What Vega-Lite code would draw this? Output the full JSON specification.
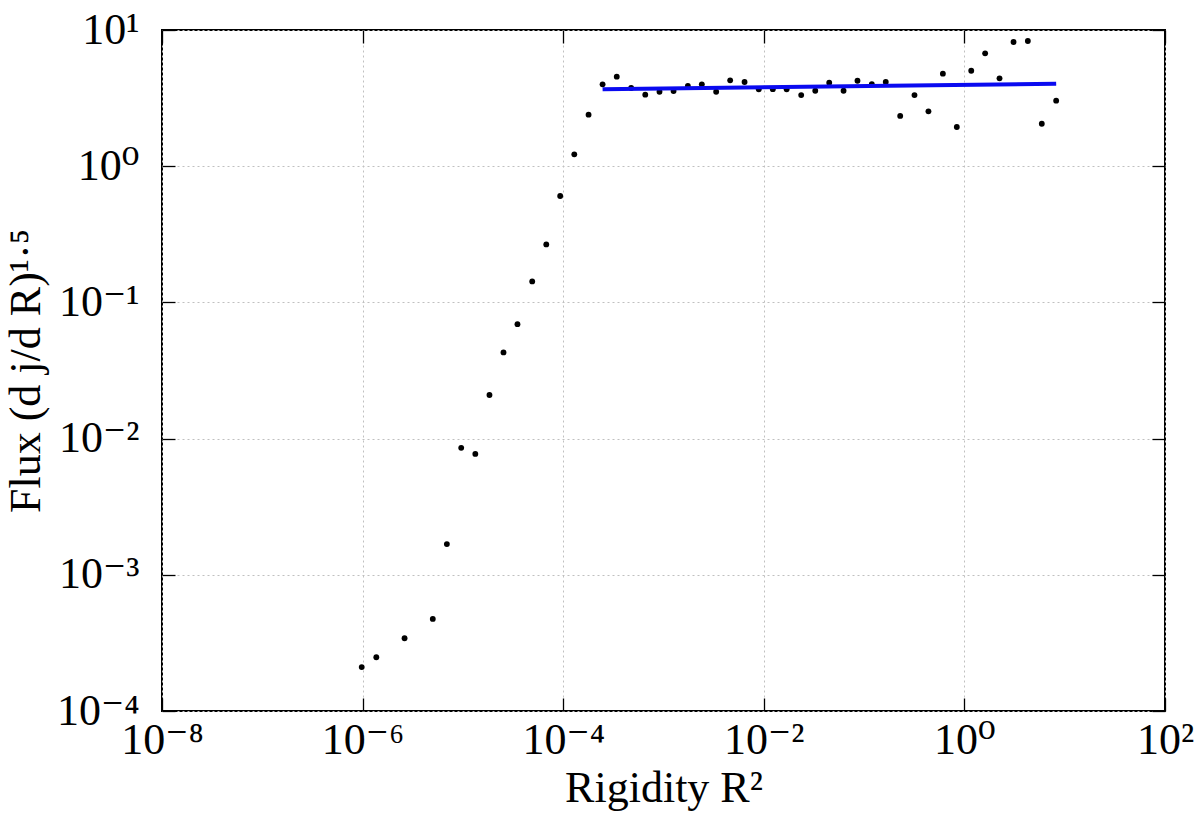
{
  "$schema": "https://vega.github.io/schema/vega-lite/v6.json",
  "autosize": "none",
  "width": 1003,
  "height": 681,
  "padding": {"left": 162, "top": 30, "right": 35, "bottom": 107},
  "background": "white",
  "datasets": {
    "flux": [
      {"rigidity": 0.00000098, "flux": 0.000210},
      {"rigidity": 0.00000137, "flux": 0.000248},
      {"rigidity": 0.00000262, "flux": 0.000342},
      {"rigidity": 0.00000501, "flux": 0.000474},
      {"rigidity": 0.00000692, "flux": 0.00168},
      {"rigidity": 0.00000962, "flux": 0.00855},
      {"rigidity": 0.0000133, "flux": 0.00772},
      {"rigidity": 0.0000184, "flux": 0.0209},
      {"rigidity": 0.0000254, "flux": 0.0429},
      {"rigidity": 0.0000350, "flux": 0.0692},
      {"rigidity": 0.0000491, "flux": 0.1426},
      {"rigidity": 0.0000678, "flux": 0.2667},
      {"rigidity": 0.0000933, "flux": 0.604},
      {"rigidity": 0.000129, "flux": 1.222},
      {"rigidity": 0.000179, "flux": 2.39},
      {"rigidity": 0.000247, "flux": 3.99},
      {"rigidity": 0.000342, "flux": 4.54},
      {"rigidity": 0.000476, "flux": 3.75},
      {"rigidity": 0.000658, "flux": 3.35},
      {"rigidity": 0.000912, "flux": 3.52},
      {"rigidity": 0.00126, "flux": 3.56},
      {"rigidity": 0.00175, "flux": 3.88},
      {"rigidity": 0.00241, "flux": 3.99},
      {"rigidity": 0.00335, "flux": 3.52},
      {"rigidity": 0.00462, "flux": 4.27},
      {"rigidity": 0.00643, "flux": 4.15},
      {"rigidity": 0.00891, "flux": 3.67},
      {"rigidity": 0.0123, "flux": 3.68},
      {"rigidity": 0.0169, "flux": 3.67},
      {"rigidity": 0.0236, "flux": 3.33},
      {"rigidity": 0.0326, "flux": 3.58},
      {"rigidity": 0.0449, "flux": 4.10},
      {"rigidity": 0.0624, "flux": 3.58},
      {"rigidity": 0.0859, "flux": 4.24},
      {"rigidity": 0.1194, "flux": 4.00},
      {"rigidity": 0.1644, "flux": 4.15},
      {"rigidity": 0.229, "flux": 2.34},
      {"rigidity": 0.318, "flux": 3.33},
      {"rigidity": 0.438, "flux": 2.53},
      {"rigidity": 0.610, "flux": 4.78},
      {"rigidity": 0.840, "flux": 1.94},
      {"rigidity": 1.17, "flux": 5.02},
      {"rigidity": 1.61, "flux": 6.74},
      {"rigidity": 2.24, "flux": 4.42},
      {"rigidity": 3.09, "flux": 8.16},
      {"rigidity": 4.29, "flux": 8.30},
      {"rigidity": 5.91, "flux": 2.05},
      {"rigidity": 8.22, "flux": 3.03}
    ],
    "fit": [
      {"rigidity": 0.000247, "flux": 3.67},
      {"rigidity": 8.22, "flux": 4.03}
    ]
  },
  "layer": [
    {
      "data": {"name": "flux"},
      "mark": {"type": "circle", "size": 34, "color": "black", "opacity": 1},
      "encoding": {
        "x": {
          "field": "rigidity",
          "type": "quantitative",
          "title": "Rigidity R²",
          "scale": {"type": "log", "domain": [1e-8, 100], "nice": false},
          "axis": {
            "orient": "bottom",
            "values": [1e-8, 1e-6, 1e-4, 1e-2, 1, 100],
            "labelExpr": "datum.value < 1e-7 ? '10⁻⁸' : datum.value < 1e-5 ? '10⁻⁶' : datum.value < 1e-3 ? '10⁻⁴' : datum.value < 0.1 ? '10⁻²' : datum.value < 10 ? '10⁰' : '10²'",
            "labelFlush": false,
            "labelOverlap": false,
            "labelPadding": 20,
            "titlePadding": 4,
            "grid": true
          }
        },
        "y": {
          "field": "flux",
          "type": "quantitative",
          "title": "Flux (d j/d R)¹·⁵",
          "scale": {"type": "log", "domain": [1e-4, 10], "nice": false},
          "axis": {
            "orient": "left",
            "values": [1e-4, 1e-3, 1e-2, 1e-1, 1, 10],
            "labelExpr": "datum.value < 5e-4 ? '10⁻⁴' : datum.value < 5e-3 ? '10⁻³' : datum.value < 0.05 ? '10⁻²' : datum.value < 0.5 ? '10⁻¹' : datum.value < 5 ? '10⁰' : '10¹'",
            "labelFlush": false,
            "labelOverlap": false,
            "labelPadding": 36,
            "titleX": -114,
            "grid": true
          }
        }
      }
    },
    {
      "data": {"name": "fit"},
      "mark": {"type": "line", "color": "#0a0af0", "strokeWidth": 4},
      "encoding": {
        "x": {
          "field": "rigidity",
          "type": "quantitative",
          "axis": {"orient": "top", "values": [1e-8, 1e-6, 1e-4, 1e-2, 1, 100], "labels": false, "title": null, "grid": false}
        },
        "y": {
          "field": "flux",
          "type": "quantitative",
          "axis": {"orient": "right", "values": [1e-4, 1e-3, 1e-2, 1e-1, 1, 10], "labels": false, "title": null, "grid": false}
        }
      }
    }
  ],
  "resolve": {"axis": {"x": "independent", "y": "independent"}},
  "config": {
    "view": {"stroke": "black", "strokeWidth": 2},
    "axis": {
      "domain": false,
      "ticks": true,
      "tickSize": -13,
      "tickColor": "black",
      "tickWidth": 1.3,
      "gridColor": "#c0c0c0",
      "gridDash": [2, 3],
      "gridWidth": 1,
      "labelFont": "Liberation Serif, DejaVu Serif",
      "labelFontSize": 44,
      "labelColor": "black",
      "titleFont": "Liberation Serif, DejaVu Serif",
      "titleFontSize": 44,
      "titleFontWeight": "normal",
      "titleColor": "black"
    }
  }
}
